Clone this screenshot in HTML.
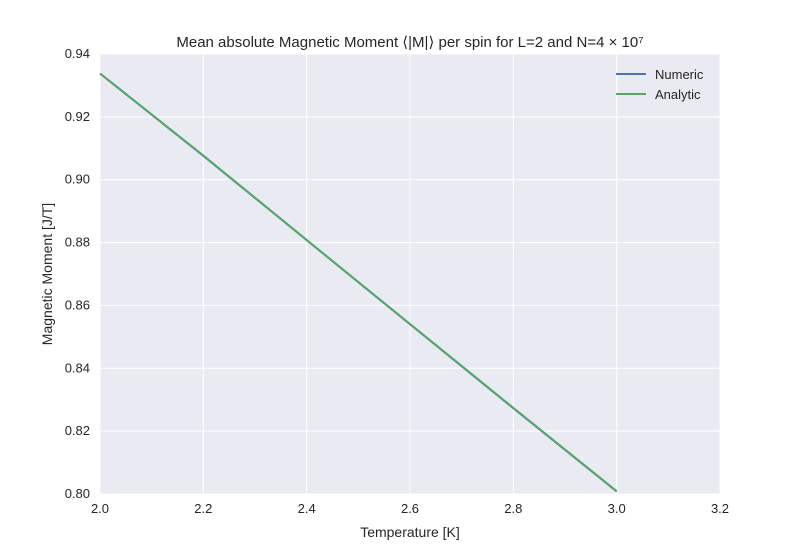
<!DOCTYPE html>
<html><head><meta charset="utf-8"><style>
body{margin:0;background:#fff;font-family:"Liberation Sans",sans-serif;}
svg text{font-family:"Liberation Sans",sans-serif;}
</style></head><body>
<svg id="chart" width="800" height="550"></svg>
<script>
const xTicks=[2.0,2.2,2.4,2.6,2.8,3.0,3.2];
const yTicks=[0.80,0.82,0.84,0.86,0.88,0.90,0.92,0.94];
const temps=[2.0,2.2,2.4,2.6,2.8,3.0];
const numeric=[0.9338,0.9076,0.8808,0.8540,0.8273,0.8008];
const analytic=[0.9338,0.9077,0.8808,0.8541,0.8274,0.8009];
const L=100,R=720,T=54,B=494;
const sx=v=>L+(v-2.0)/(3.2-2.0)*(R-L);
const sy=v=>B-(v-0.80)/(0.94-0.80)*(B-T);
const svg=document.getElementById('chart');
const NS='http://www.w3.org/2000/svg';
function mk(tag,attrs,text){const e=document.createElementNS(NS,tag);for(const k in attrs)e.setAttribute(k,attrs[k]);if(text!==undefined)e.textContent=text;svg.appendChild(e);return e;}
let bg=mk('rect',{x:L,y:T,width:R-L,height:B-T,fill:'#eaeaf2'});


xTicks.forEach(t=>{
 let g=mk('line',{x1:sx(t),x2:sx(t),y1:T,y2:B,stroke:'#fff','stroke-width':1});
 
 
 let l=mk('text',{x:sx(t),y:B+19,'text-anchor':'middle','font-size':13,fill:'#262626'},t.toFixed(1));
 
 
});
yTicks.forEach(t=>{
 let g=mk('line',{x1:L,x2:R,y1:sy(t),y2:sy(t),stroke:'#fff','stroke-width':1});
 
 
 let l=mk('text',{x:L-10,y:sy(t)+4,'text-anchor':'end','font-size':13,fill:'#262626'},t.toFixed(2));
 
 
});
const path=arr=>arr.map((v,i)=>(i?'L':'M')+sx(temps[i])+','+sy(v)).join(' ');
let p1=mk('path',{d:path(numeric),fill:'none',stroke:'#4c72b0','stroke-width':2});


let p2=mk('path',{d:path(analytic),fill:'none',stroke:'#55a868','stroke-width':2});


let t1=mk('text',{x:410,y:47,'text-anchor':'middle','font-size':15,fill:'#262626'},'Mean absolute Magnetic Moment ⟨|M|⟩ per spin for L=2 and N=4 × 10⁷');


let xl=mk('text',{x:410,y:537,'text-anchor':'middle','font-size':14,fill:'#262626'},'Temperature [K]');


let yl=mk('text',{x:52,y:274,'text-anchor':'middle','font-size':14,fill:'#262626',transform:'rotate(-90 52 274)'},'Magnetic Moment [J/T]');


[['Numeric','#4c72b0',74],['Analytic','#55a868',94]].forEach(([n,c,y])=>{
 let ln=mk('line',{x1:616,x2:646,y1:y,y2:y,stroke:c,'stroke-width':2});
 
 
 let tx=mk('text',{x:655,y:y+5,'font-size':13,fill:'#262626'},n);
 
 
});
</script>
</body></html>
